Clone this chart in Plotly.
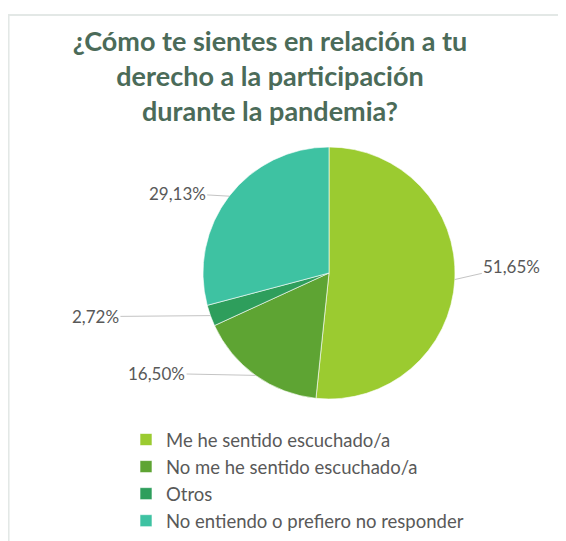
import math
import plotly.graph_objects as go

categories = ["Me he sentido escuchado/a", "No me he sentido escuchado/a", "Otros",
              "No entiendo o prefiero no responder"]
values = [51.65, 16.50, 2.72, 29.13]
pct_labels = ["51,65%", "16,50%", "2,72%", "29,13%"]
colors = ["#9bcb30", "#5ea433", "#2e9e5c", "#3ec2a2"]
label_offsets = [(57, -13), (-99, -2), (-115, 1), (-52, -3)]  # px from slice edge

W, H = 566, 541
PCX, PCY, PR = 321, 265, 126  # pie centre / radius in px (from top-left)
dom_x = [(PCX - PR) / W, (PCX + PR) / W]
dom_y = [(H - PCY - PR) / H, (H - PCY + PR) / H]

fig = go.Figure(go.Pie(
    labels=categories, values=values, sort=False, direction="clockwise", rotation=0,
    marker=dict(colors=colors, line=dict(color="rgba(255,255,255,0.6)", width=1)),
    textinfo="none", hoverinfo="label+percent",
    domain=dict(x=dom_x, y=dom_y),
))

# pie geometry (px) from domain
cx = (dom_x[0] + dom_x[1]) / 2 * W
cy = (dom_y[0] + dom_y[1]) / 2 * H
r = min((dom_x[1] - dom_x[0]) * W, (dom_y[1] - dom_y[0]) * H) / 2
total = sum(values)
cum = 0
for v, lab, (ox, oy) in zip(values, pct_labels, label_offsets):
    mid = (cum + v / 2) / total * 2 * math.pi
    cum += v
    px = cx + r * math.sin(mid)
    py = cy + r * math.cos(mid)
    fig.add_annotation(x=px / W, y=py / H, xref="paper", yref="paper",
                       text=lab, showarrow=True, arrowhead=0, arrowwidth=1,
                       arrowcolor="#c4c4c4", ax=ox, ay=oy, standoff=0,
                       font=dict(family="Lato", size=17, color="#595959"))

fig.update_layout(
    width=W, height=H, margin=dict(l=0, r=0, t=0, b=0),
    paper_bgcolor="white", plot_bgcolor="white",
    title=dict(text="¿Cómo te sientes en relación a tu<br>derecho a la participación<br>durante la pandemia?",
               x=262 / W, xanchor="center", y=1 - 43 / H, yanchor="top",
               font=dict(family="Lato", size=27, color="#4b6b59", weight="bold")),
    legend=dict(x=118 / W, y=1 - 413 / H, xanchor="left", yanchor="top",
                font=dict(family="Lato", size=18.5, color="#595959"),
                tracegroupgap=0, bgcolor="rgba(0,0,0,0)"),
    shapes=[
        dict(type="line", xref="paper", yref="paper", x0=0, x1=1, y0=1 - 7 / H, y1=1 - 7 / H,
             line=dict(color="#e3e8e6", width=2)),
        dict(type="line", xref="paper", yref="paper", x0=0.001, x1=0.001, y0=0, y1=1 - 7 / H,
             line=dict(color="#e3e8e6", width=2)),
    ],
)
fig.write_html("out.html")
